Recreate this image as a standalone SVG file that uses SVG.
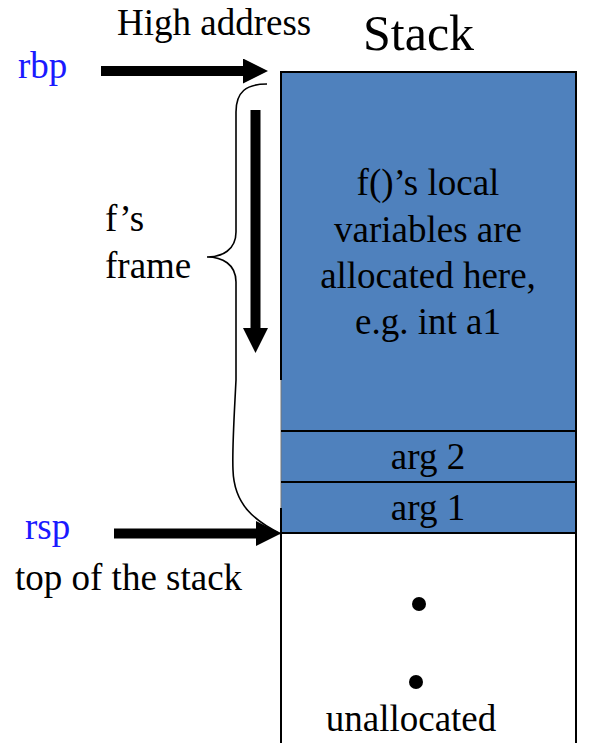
<svg xmlns="http://www.w3.org/2000/svg" width="596" height="743" viewBox="0 0 596 743">
<style>
text{font-family:'Liberation Serif','DejaVu Serif',serif;font-size:37px;fill:#000}
.c{text-anchor:middle}
.reg{fill:#1a1aff}
.blue{fill:#4f81bd}
.edge{stroke:#000;stroke-width:2;fill:none}
.shaft{stroke:#000;stroke-width:10;fill:none}
.brace{stroke:#000;stroke-width:1.6;fill:none}
</style>
<defs>
<marker id="head" markerUnits="userSpaceOnUse" markerWidth="26" markerHeight="26" refX="0" refY="12.5" orient="auto">
<path d="M0,0 L25,12.5 L0,25 Z" fill="#000"/>
</marker>
</defs>
<rect width="596" height="743" fill="#fff"/>
<g id="title" font-family="Liberation Serif, serif">
<text x="117" y="35" font-family="Liberation Serif, serif">High address</text>
<text x="363" y="50" style="font-size:50px">Stack</text>
</g>
<g id="locals">
<rect class="blue" x="281" y="72" width="295" height="359"/>
<text class="c" x="428" y="195">f()’s local</text>
<text class="c" x="428" y="242">variables are</text>
<text class="c" x="428" y="288">allocated here,</text>
<text class="c" x="428" y="334">e.g. int a1</text>
</g>
<g id="arg2">
<rect class="blue" x="281" y="431" width="295" height="51"/>
<text class="c" x="428" y="469">arg 2</text>
</g>
<g id="arg1">
<rect class="blue" x="281" y="482" width="295" height="51"/>
<text class="c" x="428" y="520">arg 1</text>
</g>
<g id="unallocated">
<rect x="281" y="533" width="295" height="212" fill="#fff"/>
<circle cx="419" cy="604" r="7" fill="#000"/>
<circle cx="416" cy="682" r="7" fill="#000"/>
<text class="c" x="411" y="731">unallocated</text>
</g>
<g id="borders">
<path class="edge" d="M281 380 V72 H576 V743"/>
<path d="M281 380 V508" stroke="#777" stroke-width="1" fill="none"/>
<path class="edge" d="M281 508 V743"/>
<path class="edge" d="M281 431 H576 M281 482 H576 M281 533 H576"/>
</g>
<g id="rbp-label"><text class="reg" x="18" y="78">rbp</text></g>
<g id="rsp-label"><text class="reg" x="25" y="539">rsp</text>
<text x="15" y="590">top of the stack</text></g>
<g id="frame-label">
<text x="105" y="231">f’s</text>
<text x="105" y="278">frame</text>
</g>
<g id="connectors">
<line class="shaft" x1="101" y1="71" x2="243" y2="71" marker-end="url(#head)"/>
<line class="shaft" x1="114" y1="533.5" x2="256" y2="533.5" marker-end="url(#head)"/>
<line class="shaft" x1="255.5" y1="110" x2="255.5" y2="328" marker-end="url(#head)"/>
<path class="brace" d="M267 84 C246 84 236 92 236 112 L236 232 C236 250 222 257 207 257 C222 257 236 264 236 282 L236 380"/>
<path class="brace" d="M236 380 C234 420 232 450 233 470 C234 505 255 521 281 534"/>
</g>
</svg>
